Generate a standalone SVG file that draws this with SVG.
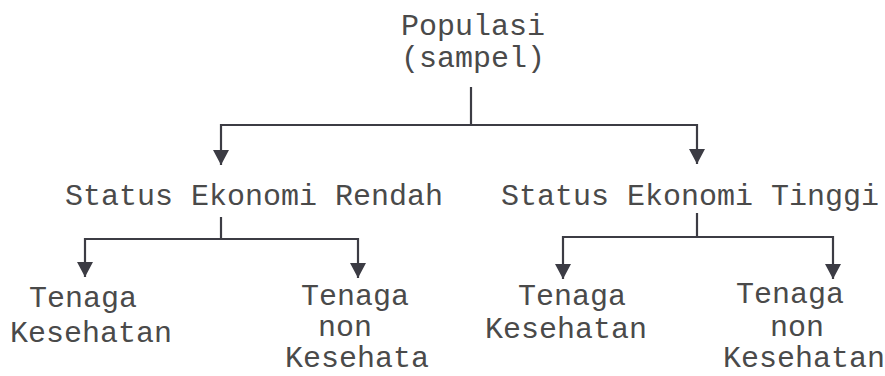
<svg xmlns="http://www.w3.org/2000/svg" width="885" height="376" viewBox="0 0 885 376">
<style>
.t{font-family:"Liberation Mono","Courier New",monospace;font-size:30px;fill:#4a4a4a;}
.c{fill:none;stroke:#3c3c44;stroke-width:2.2;}
</style>
<defs>
<marker id="ah" markerUnits="userSpaceOnUse" viewBox="0 0 15 16" refX="15" refY="8" markerWidth="15" markerHeight="16" orient="auto">
<path d="M0,0 L15,8 L0,16 z" fill="#3c3c44"/>
</marker>
</defs>
<rect width="885" height="376" fill="#ffffff"/>
<g id="connectors">
<path class="c" d="M471,87 V125"/>
<path class="c" d="M221,125 H697"/>
<path class="c" d="M221,124 V165" marker-end="url(#ah)"/>
<path class="c" d="M697,124 V164" marker-end="url(#ah)"/>
<path class="c" d="M221,217 V239"/>
<path class="c" d="M85,239 H358"/>
<path class="c" d="M85,238 V277" marker-end="url(#ah)"/>
<path class="c" d="M358,238 V278" marker-end="url(#ah)"/>
<path class="c" d="M697,213 V237"/>
<path class="c" d="M563,237 H833"/>
<path class="c" d="M563,236 V279" marker-end="url(#ah)"/>
<path class="c" d="M833,236 V279" marker-end="url(#ah)"/>
</g>
<g id="populasi">
<text class="t" x="401" y="35">Populasi</text>
<text class="t" x="401" y="67">(sampel)</text>
</g>
<g id="ekonomi-rendah">
<text class="t" x="65" y="205">Status Ekonomi Rendah</text>
</g>
<g id="ekonomi-tinggi">
<text class="t" x="501" y="205">Status Ekonomi Tinggi</text>
</g>
<g id="rendah-kesehatan">
<text class="t" x="29" y="307">Tenaga</text>
<text class="t" x="10" y="342">Kesehatan</text>
</g>
<g id="rendah-non-kesehatan">
<text class="t" x="301" y="305">Tenaga</text>
<text class="t" x="318" y="336">non</text>
<text class="t" x="285" y="367">Kesehata</text>
</g>
<g id="tinggi-kesehatan">
<text class="t" x="518" y="305">Tenaga</text>
<text class="t" x="485" y="338">Kesehatan</text>
</g>
<g id="tinggi-non-kesehatan">
<text class="t" x="736" y="303">Tenaga</text>
<text class="t" x="770" y="336">non</text>
<text class="t" x="723" y="367">Kesehatan</text>
</g>
</svg>
